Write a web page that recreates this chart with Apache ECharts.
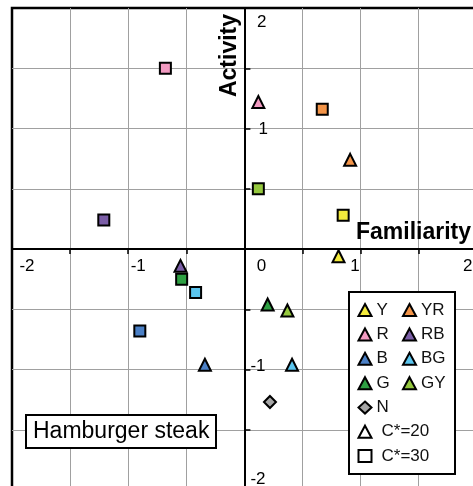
<!DOCTYPE html>
<html>
<head>
<meta charset="utf-8">
<script src="https://cdn.jsdelivr.net/npm/echarts@6/dist/echarts.min.js"></script>
<style>
  html, body { margin: 0; padding: 0; background: #fff; }
  #chart { width: 473px; height: 486px; }
</style>
</head>
<body>
<div id="chart"></div>
<script>
  // hue categories
  const hueNames = ['Y', 'YR', 'R', 'RB', 'B', 'BG', 'G', 'GY'];
  // C*=20 (triangles)
  const c20Familiarity = [0.81, 0.91, 0.12, -0.55, -0.34, 0.41, 0.20, 0.37];
  const c20Activity = [-0.06, 0.74, 1.22, -0.14, -0.96, -0.96, -0.46, -0.51];
  // C*=30 (squares)
  const c30Familiarity = [0.85, 0.67, -0.68, -1.21, -0.90, -0.42, -0.54, 0.12];
  const c30Activity = [0.28, 1.16, 1.50, 0.24, -0.68, -0.36, -0.25, 0.50];
  // neutral
  const neutralName = 'N';
  const neutralPoint = [0.22, -1.27];

  const xTickValues = [-2, -1, 0, 1, 2];
  const xTickLabels = ['-2', '-1', '0', '1', '2'];
  const yTickValues = [2, 1, -1, -2];
  const yTickLabels = ['2', '1', '-1', '-2'];

  const hueColors = ['#f3ea3c', '#f39448', '#f29ac1', '#7b5ea7', '#4b80c6', '#5bc5ee', '#2ea043', '#95c83e'];
  const font = '"Liberation Sans", Arial, sans-serif';
  const xTickNudge = [15, 10, 17, -5.5, -9];
  const yTickNudge = [[12.5, 14.7], [14, 0.8], [6, -3.1], [6, -10.7]];

  const chart = echarts.init(document.getElementById('chart'));

  const markerStyle = (color) => ({ color, borderColor: '#000', borderWidth: 2, opacity: 1 });

  const hueSeries = hueNames.map((name, i) => ({
    name,
    type: 'scatter',
    symbol: 'triangle',
    symbolSize: 12,
    itemStyle: markerStyle(hueColors[i]),
    data: [
      { value: [c20Familiarity[i], c20Activity[i]] },
      { value: [c30Familiarity[i], c30Activity[i]], symbol: 'rect', symbolSize: 11 },
    ],
  }));

  const valueAxis = (extra) => Object.assign({
    type: 'value',
    min: -2,
    max: 2,
    interval: 0.5,
    axisLine: { onZero: true, lineStyle: { color: '#000', width: 2 } },
    axisLabel: { show: false },
    splitLine: { show: true, showMinLine: false, showMaxLine: false, lineStyle: { color: '#a0a0a0', width: 1 } },
  }, extra);

  const legendBase = {
    orient: 'vertical',
    padding: 0,
    itemGap: 6.4,
    itemWidth: 13,
    itemHeight: 12,
    selectedMode: false,
    itemStyle: { borderColor: '#000', borderWidth: 2 },
    textStyle: { fontSize: 17, fontFamily: font, color: '#111', lineHeight: 18 },
  };

  chart.setOption({
    animation: false,
    title: {
      text: 'Hamburger steak',
      left: 26,
      top: 415,
      padding: [4, 7],
      backgroundColor: '#fff',
      borderColor: '#000',
      borderWidth: 2,
      textStyle: { fontSize: 23, fontWeight: 'normal', fontFamily: font, color: '#000', lineHeight: 25 },
    },
    grid: {
      show: true,
      left: 12,
      top: 8,
      width: 464.8,
      height: 482,
      outerBoundsMode: 'none',
      containLabel: false,
      borderColor: '#000',
      borderWidth: 2.5,
      backgroundColor: 'transparent',
    },
    xAxis: valueAxis({
      axisTick: { show: true, length: 5, lineStyle: { color: '#000', width: 1.5 } },
    }),
    yAxis: valueAxis({
      axisTick: { show: true, inside: true, length: 6, lineStyle: { color: '#000', width: 1.5 } },
    }),
    legend: [
      Object.assign({}, legendBase, { left: 357.5, top: 301, data: ['Y', 'R', 'B', 'G', 'N'] }),
      Object.assign({}, legendBase, { left: 402, top: 301, data: ['YR', 'RB', 'BG', 'GY'] }),
      Object.assign({}, legendBase, {
        left: 357.5,
        top: 422.7,
        data: ['C*=20', 'C*=30'],
        textStyle: Object.assign({}, legendBase.textStyle, { padding: [0, 0, 0, 5] }),
      }),
    ],
    series: hueSeries.concat([
      {
        name: neutralName,
        type: 'scatter',
        symbol: 'diamond',
        symbolSize: 12,
        itemStyle: markerStyle('#a6a6a6'),
        data: [neutralPoint],
      },
      { name: 'C*=20', type: 'scatter', symbol: 'triangle', itemStyle: markerStyle('#fff'), data: [] },
      { name: 'C*=30', type: 'scatter', symbol: 'rect', itemStyle: markerStyle('#fff'), data: [] },
    ]),
  });

  // tick labels and axis names placed against the axes
  const origin = chart.convertToPixel({ gridIndex: 0 }, [0, 0]);
  const graphics = [
    {
      type: 'rect',
      z: 3,
      shape: { x: 349, y: 292, width: 106, height: 182 },
      style: { fill: '#fff', stroke: '#000', lineWidth: 2 },
    },
    {
      type: 'text',
      z: 5,
      x: 230,
      y: 55.5,
      rotation: Math.PI / 2,
      style: { text: 'Activity', fontSize: 23, fontWeight: 'bold', fontFamily: font, fill: '#000', align: 'center', verticalAlign: 'middle' },
    },
    {
      type: 'text',
      z: 5,
      x: 413.5,
      y: 233,
      style: { text: 'Familiarity', fontSize: 23, fontWeight: 'bold', fontFamily: font, fill: '#000', align: 'center', verticalAlign: 'middle' },
    },
  ];

  xTickValues.forEach((value, i) => {
    const p = chart.convertToPixel({ gridIndex: 0 }, [value, 0]);
    graphics.push({
      type: 'text',
      z: 5,
      x: p[0] + xTickNudge[i],
      y: origin[1] + 17,
      style: { text: xTickLabels[i], fontSize: 17, fontFamily: font, fill: '#000', align: 'center', verticalAlign: 'middle' },
    });
  });

  yTickValues.forEach((value, i) => {
    const p = chart.convertToPixel({ gridIndex: 0 }, [0, value]);
    graphics.push({
      type: 'text',
      z: 5,
      x: origin[0] + yTickNudge[i][0],
      y: p[1] + yTickNudge[i][1],
      style: { text: yTickLabels[i], fontSize: 17, fontFamily: font, fill: '#000', align: 'left', verticalAlign: 'middle' },
    });
  });

  chart.setOption({ graphic: graphics });
</script>
</body>
</html>
